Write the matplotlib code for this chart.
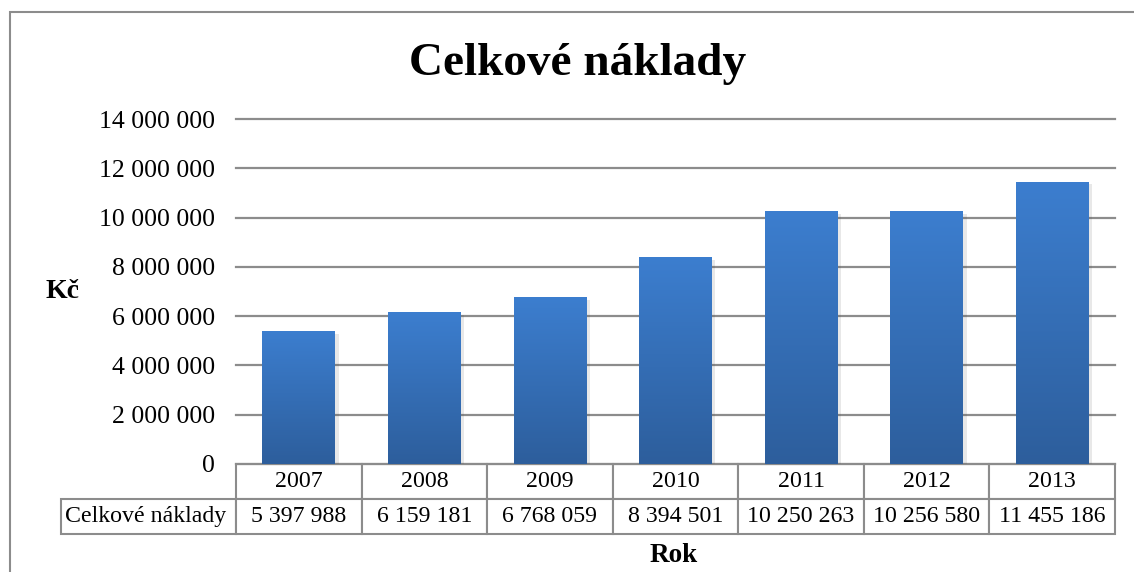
import numpy as np
import matplotlib
matplotlib.use("Agg")
import matplotlib.pyplot as plt
from matplotlib.colors import LinearSegmentedColormap
from matplotlib.patches import Rectangle
import matplotlib.patheffects as pe

# data
years = ["2007", "2008", "2009", "2010", "2011", "2012", "2013"]
costs = [5397988, 6159181, 6768059, 8394501, 10250263, 10256580, 11455186]
series_name = "Celkové náklady"
y_ticks = [0, 2000000, 4000000, 6000000, 8000000, 10000000, 12000000, 14000000]


def fmt(v):
    # thousands separated by spaces, Czech style
    return f"{v:,}".replace(",", " ")


plt.rcParams["font.family"] = ["Liberation Serif", "DejaVu Serif"]

fig = plt.figure(figsize=(11.34, 5.72), dpi=100)
ax = fig.add_axes([236 / 1134, 1 - 464 / 572, 879 / 1134, 345 / 572])

grid_col = "#8c8c8c"
x = np.arange(len(years))
bars = ax.bar(x, costs, width=0.58, color="#3469b0", zorder=3,
              path_effects=[pe.SimplePatchShadow(offset=(2.5, -2), alpha=0.12, shadow_rgbFace="#444444"),
                            pe.Normal()])

# vertical gradient inside each bar
cmap = LinearSegmentedColormap.from_list("blu", ["#2d5e9c", "#3c7ecf"])
grad = np.linspace(0, 1, 256).reshape(-1, 1)
for b in bars:
    im = ax.imshow(grad, cmap=cmap, origin="lower", aspect="auto", zorder=4,
                   extent=[b.get_x(), b.get_x() + b.get_width(), 0, b.get_height()])
    im.set_clip_path(b)

ax.set_xlim(-0.5, len(years) - 0.5)
ax.set_ylim(0, 14000000)
ax.set_yticks(y_ticks)
ax.set_yticklabels([fmt(v) for v in y_ticks], fontsize=18.5)
ax.tick_params(axis="y", length=0, pad=15)
ax.set_xticks([])
ax.yaxis.grid(True, color=grid_col, linewidth=1.6, zorder=0)
for gl in ax.get_ygridlines():
    gl.set_clip_on(False)
for s in ax.spines.values():
    s.set_visible(False)

# data table under the chart
tbl = ax.table(cellText=[[fmt(v) for v in costs]],
               rowLabels=[series_name], colLabels=years,
               cellLoc="center", rowLoc="left",
               bbox=[0, -70 / 345, 1, 70 / 345])
tbl._autoColumns = []
tbl.auto_set_font_size(False)
for (r, c), cell in tbl.get_celld().items():
    cell.set_width(175 / 879 if c == -1 else 1 / 7)
    cell.set_edgecolor(grid_col)
    cell.set_linewidth(1.5)
    cell.get_text().set_fontsize(17.2)
    if c == -1:
        cell.PAD = 0.025

fig.text(578 / 1134, 1 - 64 / 572, "Celkové náklady", fontsize=34, fontweight="bold",
         ha="center", va="center")
fig.text(63 / 1134, 1 - 292 / 572, "Kč", fontsize=20, fontweight="bold",
         ha="center", va="center")
fig.text(674 / 1134, 1 - 556 / 572, "Rok", fontsize=19.5, fontweight="bold",
         ha="center", va="center")

# chart frame
fig.patches.append(Rectangle((10 / 1134, -0.1), 1.2, 1 - 12 / 572 + 0.1,
                             transform=fig.transFigure, fill=False,
                             edgecolor=grid_col, linewidth=1.5))

fig.savefig("out.png", dpi=100)
